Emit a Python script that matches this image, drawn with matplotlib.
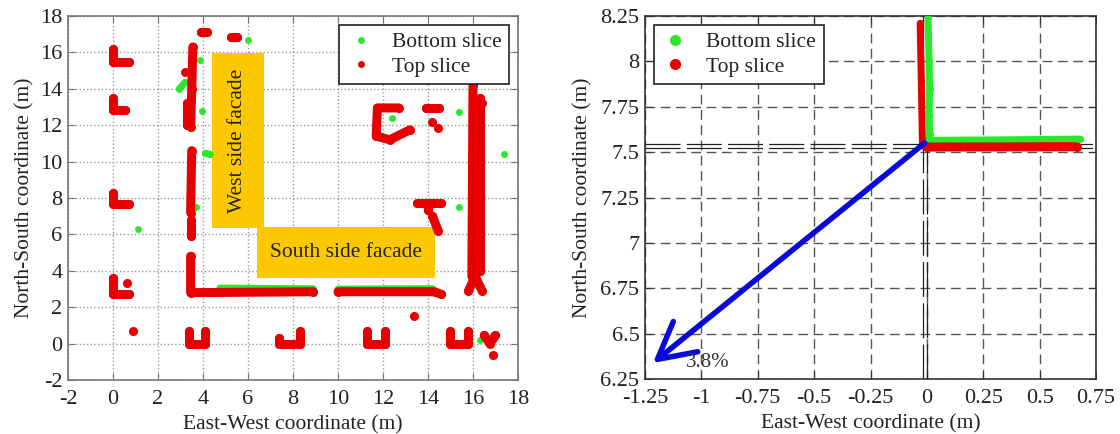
"""
Facade point clouds (bottom / top slice) and the drift of the corner
"""
# IMPORTS
import matplotlib
matplotlib.use('Agg')
import matplotlib.pyplot as plt

from matplotlib.lines import Line2D
from matplotlib.patches import Rectangle

plt.rcParams['font.family'] = 'serif'
plt.rcParams['font.serif'] = ['Liberation Serif', 'DejaVu Serif']
plt.rcParams['axes.unicode_minus'] = False

RED = '#e60000'
GREEN = '#2ee62e'
BLUE = '#0a0ad8'
TEXT = '#222222'

# VARIABLES
# Left panel: point clouds traced as strokes, vertices in (x, y) metres
top_corner_marks = [
    [(0, 16.2), (0, 15.5), (0.7, 15.5)],
    [(0, 13.5), (0, 12.85), (0.55, 12.85)],
    [(0, 8.3), (0, 7.65), (0.7, 7.65)],
    [(0, 3.6), (0, 2.75), (0.7, 2.75)],
    [(0.62, 3.35)],
    [(0.9, 0.7)],
]
top_west = [
    [(3.55, 16.3), (3.5, 14.0), (3.45, 11.9)],
    [(3.3, 13.2), (3.3, 12.0)],
    [(3.5, 10.6), (3.45, 7.2)],
    [(3.45, 6.8), (3.45, 5.9)],
    [(3.2, 14.9)],
    [(3.9, 17.1), (4.2, 17.1)],
    [(5.25, 16.85), (5.5, 16.85)],
]
top_south = [
    [(3.45, 4.8), (3.45, 2.8), (8.9, 2.85)],
    [(10.0, 2.85), (14.3, 2.85), (14.6, 2.7)],
]
top_east = [
    [(16.0, 14.2), (15.95, 3.7)],
    [(16.3, 13.5), (16.3, 4.0)],
    [(16.1, 3.7), (15.8, 2.9)],
    [(16.1, 3.7), (16.4, 2.9)],
    [(16.4, 13.2)],
]
top_interior = [
    [(12.7, 12.95), (11.75, 12.95), (11.7, 11.4), (12.3, 11.2), (13.2, 11.75)],
    [(13.9, 12.95), (14.5, 12.95)],
    [(14.2, 12.2)],
    [(14.45, 11.85)],
    [(13.5, 7.75), (14.6, 7.75)],
    [(14.0, 7.75), (14.0, 7.35)],
    [(14.2, 7.0), (14.45, 6.2)],
    [(13.4, 1.5)],
]
top_bottom_marks = [
    [(3.4, 0.7), (3.4, 0.0), (4.1, 0.0), (4.1, 0.7)],
    [(7.4, 0.3), (7.4, 0.0), (8.3, 0.0), (8.3, 0.7)],
    [(11.3, 0.7), (11.3, 0.0), (12.1, 0.0), (12.1, 0.7)],
    [(15.0, 0.7), (15.0, 0.0), (15.8, 0.0), (15.8, 0.7)],
    [(16.5, 0.45), (16.75, 0.0), (17.0, 0.45)],
    [(16.9, -0.6)],
]
bottom_slice_left = [
    [(0.6, 12.85)], [(1.1, 6.3)], [(2.95, 14.0), (3.2, 14.35)],
    [(3.85, 15.6)], [(3.95, 12.8)], [(4.1, 10.45), (4.3, 10.4)],
    [(4.1, 17.15)], [(6.0, 16.7)], [(3.7, 7.5)],
    [(4.75, 3.05), (8.9, 3.02)], [(10.0, 3.0), (14.2, 3.02)],
    [(12.4, 12.4)], [(11.7, 12.95)], [(15.4, 12.75)], [(15.4, 7.5)],
    [(17.4, 10.4)], [(15.9, 3.5)], [(16.3, 0.2)],
]

left_ticks = list(range(-2, 19, 2))

# Right panel: zoom on the south-west corner
bottom_vertical_x = [0.005, 0.01, 0.012, 0.01, 0.012, 0.005]
bottom_vertical_y = [8.24, 8.0, 7.85, 7.7, 7.6, 7.56]
bottom_horizontal_x = [0.02, 0.35, 0.68]
bottom_horizontal_y = [7.565, 7.568, 7.572]
top_vertical_x = [-0.03, -0.025, -0.02, -0.01]
top_vertical_y = [8.21, 7.9, 7.55, 7.53]
top_horizontal_x = [0.0, 0.665]
top_horizontal_y = [7.528, 7.53]
fit_rows = [7.545, 7.523]
fit_cols = [-0.017, 0.0]
drift_start = (-0.01, 7.55)
drift_end = (-1.215, 6.338)
drift_label = '3.8%'

right_xticks = [-1.25, -1, -0.75, -0.5, -0.25, 0, 0.25, 0.5, 0.75]
right_xlabels = ['-1.25', '-1', '-0.75', '-0.5', '-0.25', '0', '0.25', '0.5', '0.75']
right_yticks = [6.25, 6.5, 6.75, 7, 7.25, 7.5, 7.75, 8, 8.25]
right_ylabels = ['6.25', '6.5', '6.75', '7', '7.25', '7.5', '7.75', '8', '8.25']


# FUNCTIONS
def draw_paths(ax, paths, color, lw):
    """Draw each traced cloud as a thick round stroke."""
    for path in paths:
        xs = [p[0] for p in path]
        ys = [p[1] for p in path]
        ax.plot(xs, ys, '-o', color=color, lw=lw, ms=lw, mew=0,
                solid_capstyle='round', solid_joinstyle='round', zorder=3)


def style_axes(ax, edge):
    ax.tick_params(direction='in', top=True, right=True, length=5,
                   labelsize=16, labelcolor=TEXT, color=edge)
    ax.tick_params(axis='x', pad=7.5)
    ax.tick_params(axis='y', pad=4)
    for spine in ax.spines.values():
        spine.set_color(edge)
        spine.set_linewidth(1.2)
    ax.set_axisbelow(True)


def slice_legend(ax, loc, ms):
    handles = [Line2D([], [], ls='none', marker='o', ms=ms, mew=0, color=GREEN),
               Line2D([], [], ls='none', marker='o', ms=ms, mew=0, color=RED)]
    leg = ax.legend(handles, ['Bottom slice', 'Top slice'], loc=loc,
                    fontsize=15.5, fancybox=False, framealpha=1,
                    edgecolor='#222222', handlelength=1.3, handletextpad=0.8,
                    borderaxespad=0.4, labelspacing=0.2, borderpad=0.35)
    leg.get_frame().set_linewidth(1.2)
    for t in leg.get_texts():
        t.set_color(TEXT)


# EXECUTION
fig = plt.figure(figsize=(11.2, 4.34), dpi=100)
ax1 = fig.add_axes([0.0607, 0.1244, 0.4018, 0.8387])
ax2 = fig.add_axes([0.5759, 0.1267, 0.4027, 0.8364])

# Left panel
style_axes(ax1, '#777777')
ax1.grid(True, ls=':', color='#999999', lw=1)
ax1.add_patch(Rectangle((4.4, 6.35), 2.3, 9.6, facecolor='#fcc800', edgecolor='none', zorder=2))
ax1.add_patch(Rectangle((6.4, 3.6), 7.9, 2.8, facecolor='#fcc800', edgecolor='none', zorder=2))
ax1.text(5.55, 11.15, 'West side facade', rotation=90, ha='center', va='center',
         fontsize=15.5, color=TEXT, zorder=4)
ax1.text(10.35, 5.0, 'South side facade', ha='center', va='center',
         fontsize=15.5, color=TEXT, zorder=4)

draw_paths(ax1, bottom_slice_left, GREEN, 5)
for group in [top_corner_marks, top_west, top_south, top_east, top_interior, top_bottom_marks]:
    draw_paths(ax1, group, RED, 6.5)

ax1.set_xlim(-2, 18)
ax1.set_ylim(-2, 18)
ax1.set_xticks(left_ticks)
ax1.set_yticks(left_ticks)
ax1.set_xlabel('East-West coordinate (m)', fontsize=15.5, color=TEXT, labelpad=4)
ax1.set_ylabel('North-South coordinate (m)', fontsize=15.5, color=TEXT, labelpad=4)
slice_legend(ax1, 'upper right', 5)

# Right panel
style_axes(ax2, '#333333')
ax2.grid(True, ls=(0, (7, 4)), color='#555555', lw=1)
for y in fit_rows:
    ax2.axhline(y, color='#222222', lw=0.9, ls=(0, (28, 5)), zorder=2)
for x in fit_cols:
    ax2.axvline(x, color='#222222', lw=0.9, ls=(0, (28, 5)), zorder=2)

ax2.plot(bottom_vertical_x, bottom_vertical_y, '-o', color=GREEN, lw=5, ms=5,
         mew=0, solid_capstyle='round', zorder=3)
ax2.plot(bottom_horizontal_x, bottom_horizontal_y, '-o', color=GREEN, lw=5, ms=5,
         mew=0, solid_capstyle='round', zorder=3)
ax2.plot(top_vertical_x, top_vertical_y, '-o', color=RED, lw=5, ms=5,
         mew=0, solid_capstyle='round', zorder=4)
ax2.plot(top_horizontal_x, top_horizontal_y, '-o', color=RED, lw=6.5, ms=6.5,
         mew=0, solid_capstyle='round', zorder=4)

ax2.annotate('', xy=drift_end, xytext=drift_start, zorder=5,
             arrowprops=dict(arrowstyle='->,head_length=1.3,head_width=0.7',
                             mutation_scale=20, color=BLUE, lw=4,
                             shrinkA=0, shrinkB=0))
ax2.text(drift_end[0] + 0.145, drift_end[1] + 0.005, drift_label, ha='left',
         va='center', fontsize=15, color='#333333', zorder=5)

ax2.set_xlim(-1.25, 0.75)
ax2.set_ylim(6.25, 8.25)
ax2.set_xticks(right_xticks)
ax2.set_xticklabels(right_xlabels)
ax2.set_yticks(right_yticks)
ax2.set_yticklabels(right_ylabels)
ax2.set_xlabel('East-West coordinate (m)', fontsize=15.5, color=TEXT, labelpad=4)
ax2.set_ylabel('North-South coordinate (m)', fontsize=15.5, color=TEXT, labelpad=6)
slice_legend(ax2, 'upper left', 8)

# OUTPUT
fig.savefig('out.png', dpi=100)
